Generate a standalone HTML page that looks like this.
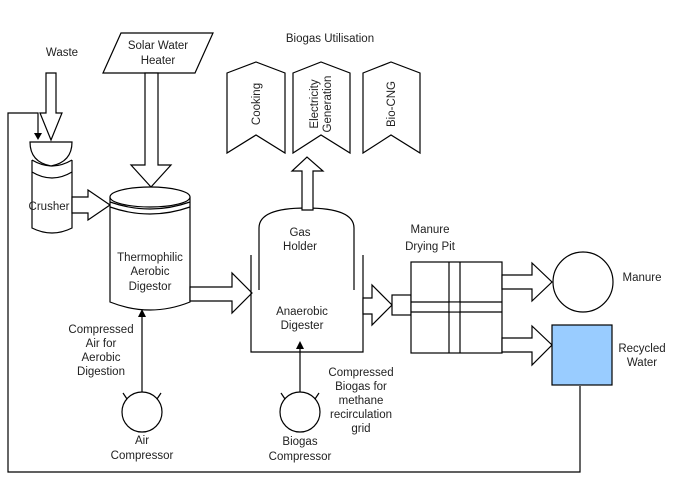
<!DOCTYPE html>
<html><head><style>body{margin:0;background:#fff}svg{display:block}text{font-family:"Liberation Sans",Arial,sans-serif;font-size:11.5px;fill:#222}</style></head><body>
<svg width="673" height="482" viewBox="0 0 673 482" xmlns="http://www.w3.org/2000/svg">
<g fill="none" stroke="#000" stroke-width="1.2">
<polyline points="38,134 38,113 8,113 8,472 580,472 580,386"/>
<polygon points="46,73 56,73 56,113 62,113 51,140 40,113 46,113" fill="#fff"/>
<!-- crusher -->
<path d="M32,160 L32,228 Q52,238 72,228 L72,160" fill="#fff"/>
<path d="M32,160 Q52,172 72,160" />
<path d="M32,172 Q52,184 72,172" />
<path d="M30,142 L72,142 Q72,162 51,166 Q30,162 30,142 Z" fill="#fff"/>
<polygon points="72,197 88,197 88,190 110,205 88,220 88,213 72,213" fill="#fff"/>
<polygon points="103,73 121,33 213,33 195,73" fill="#fff"/>
<polygon points="145,73 158,73 158,165 171,165 151,187 131,165 145,165" fill="#fff"/>
<path d="M110,197 L110,302 Q150,318 190,302 L190,197" fill="#fff"/>
<ellipse cx="150" cy="197" rx="40" ry="10" fill="#fff"/>
<path d="M110,202 Q150,216 190,202"/>
<path d="M110,207 Q150,221 190,207"/>
<polygon points="190,287 232,287 232,273 252,293 232,313 232,301 190,301" fill="#fff"/>
<polyline points="251,255 251,352 363,352 363,255"/>
<path d="M259,290 L259,228 Q259,208 306,208 Q354,208 354,228 L354,290"/>
<polygon points="302,210 302,171 292,171 307,157 323,171 313,171 313,210" fill="#fff"/>
<polygon points="227,73 256,62 285,73 285,153 256,135 227,153" fill="#fff"/>
<polygon points="293,73 321,62 350,73 350,153 321,135 293,153" fill="#fff"/>
<polygon points="363,73 391,62 420,73 420,153 391,135 363,153" fill="#fff"/>
<polygon points="363,298 372,298 372,285 392,305 372,325 372,314 363,314" fill="#fff"/>
<rect x="392" y="295" width="19" height="20" fill="#fff"/>
<rect x="411" y="262" width="91" height="91" fill="#fff"/>
<line x1="411" y1="302" x2="502" y2="302"/><line x1="411" y1="312" x2="502" y2="312"/>
<line x1="449" y1="262" x2="449" y2="353"/><line x1="460" y1="262" x2="460" y2="353"/>
<rect x="449.6" y="302.6" width="9.8" height="8.8" fill="#fff" stroke="none"/>
<polygon points="502,275 532,275 532,263 552,282 532,301 532,289 502,289" fill="#fff"/>
<circle cx="583" cy="282" r="30" fill="#fff"/>
<polygon points="502,338 532,338 532,326 552,345 532,365 532,352 502,352" fill="#fff"/>
<rect x="552" y="325" width="60" height="60" fill="#99ccff"/>
<circle cx="142" cy="412" r="20" fill="#fff"/>
<line x1="127" y1="399" x2="123" y2="393"/><line x1="157" y1="399" x2="161" y2="393"/>
<line x1="142" y1="392" x2="142" y2="316"/>
<circle cx="300" cy="412" r="20" fill="#fff"/>
<line x1="285" y1="399" x2="281" y2="393"/><line x1="315" y1="399" x2="319" y2="393"/>
<line x1="300" y1="392" x2="300" y2="348"/>
</g>
<g fill="#000">
<polygon points="34,133 42,133 38,140"/>
<polygon points="138,317 146,317 142,309"/>
<polygon points="296,349 304,349 300,341"/>
</g>
<g text-anchor="middle">
<text x="62" y="56">Waste</text>
<text x="158" y="49">Solar Water</text><text x="158" y="64">Heater</text>
<text x="49" y="210">Crusher</text>
<text x="150" y="261">Thermophilic</text><text x="150" y="275">Aerobic</text><text x="150" y="290">Digestor</text>
<text x="330" y="42">Biogas Utilisation</text>
<text x="300" y="236">Gas</text><text x="300" y="250">Holder</text>
<text x="302" y="315">Anaerobic</text><text x="302" y="329">Digester</text>
<text x="430" y="233">Manure</text><text x="430" y="250">Drying Pit</text>
<text x="642" y="281">Manure</text>
<text x="642" y="352">Recycled</text><text x="642" y="366">Water</text>
<text x="101" y="333">Compressed</text><text x="101" y="347">Air for</text><text x="101" y="361">Aerobic</text><text x="101" y="375">Digestion</text>
<text x="142" y="444">Air</text><text x="142" y="459">Compressor</text>
<text x="361" y="376">Compressed</text><text x="361" y="390">Biogas for</text><text x="361" y="404">methane</text><text x="361" y="418">recirculation</text><text x="361" y="432">grid</text>
<text x="300" y="445">Biogas</text><text x="300" y="460">Compressor</text>
<text transform="translate(260,104) rotate(-90)">Cooking</text>
<text transform="translate(318,104) rotate(-90)">Electricity</text>
<text transform="translate(331,104) rotate(-90)">Generation</text>
<text transform="translate(395,104) rotate(-90)">Bio-CNG</text>
</g>
</svg>
</body></html>
